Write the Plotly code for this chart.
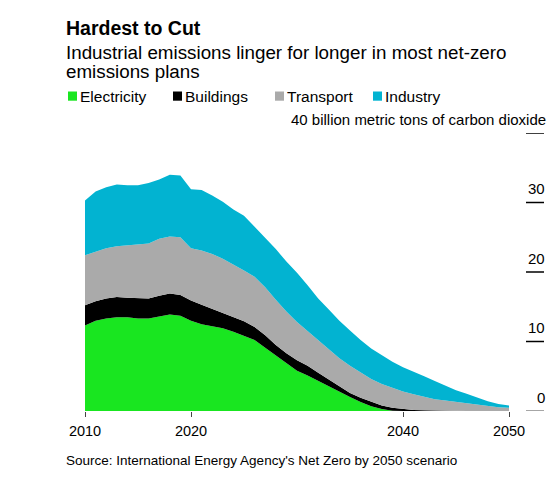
import plotly.graph_objects as go

# ---- data (billion metric tons CO2) ----
years = list(range(2010, 2051))
electricity = [12.3, 13.0, 13.3, 13.5, 13.5, 13.3, 13.3, 13.6, 13.9, 13.7,
               13.0, 12.5, 12.2, 11.9, 11.4, 10.8, 10.2, 9.1, 8.0, 6.8,
               5.8, 5.1, 4.3, 3.5, 2.7, 2.0, 1.3, 0.7, 0.3, 0.05,
               0, 0, 0, 0, 0, 0, 0, 0, 0, 0, 0]
buildings = [2.9, 2.8, 2.9, 2.9, 2.8, 2.9, 2.9, 3.0, 3.0, 3.0,
             2.9, 2.8, 2.5, 2.2, 2.1, 2.1, 1.9, 1.8, 1.5, 1.5,
             1.5, 1.4, 1.2, 1.0, 0.8, 0.6, 0.6, 0.6, 0.5, 0.4,
             0.25, 0.15, 0.1, 0.05, 0.02, 0, 0, 0, 0, 0, 0]
transport = [7.2, 7.1, 7.2, 7.3, 7.5, 7.7, 7.9, 8.2, 8.2, 8.3,
             7.5, 7.8, 7.9, 7.8, 7.6, 7.3, 7.2, 6.9, 6.5, 6.0,
             5.5, 5.0, 4.6, 4.3, 4.1, 3.9, 3.6, 3.3, 3.1, 2.85,
             2.55, 2.25, 1.9, 1.65, 1.48, 1.3, 1.1, 0.85, 0.7, 0.55, 0.45]
industry = [7.9, 8.7, 8.8, 8.9, 8.7, 8.6, 8.7, 8.5, 8.9, 8.9,
            8.5, 8.7, 8.4, 8.2, 7.9, 7.9, 7.2, 7.1, 7.3, 7.2,
            7.1, 6.6, 6.1, 5.8, 5.4, 5.1, 4.7, 4.4, 4.1, 3.8,
            3.5, 3.3, 3.0, 2.6, 2.1, 1.7, 1.4, 1.05, 0.7, 0.45, 0.35]

series_names = ["Electricity", "Buildings", "Transport", "Industry"]
series_values = [electricity, buildings, transport, industry]
series_colors = ["#19e620", "#000000", "#aaaaaa", "#02b3d1"]

x_tick_vals = [2010, 2020, 2040, 2050]
y_tick_vals = [0, 10, 20, 30]
y_top = 40
y_unit_label = "40 billion metric tons of carbon dioxide"

title = "Hardest to Cut"
subtitle1 = "Industrial emissions linger for longer in most net-zero"
subtitle2 = "emissions plans"
source = "Source: International Energy Agency's Net Zero by 2050 scenario"

FONT = "Liberation Sans, Arial, Helvetica, sans-serif"

# the page body has an 8px margin, so the figure is laid out 8px smaller
OFF = 8
W, H = 558 - OFF, 482 - OFF
ML, MR, MT, MB = 77, 49, 125, 71
PW, PH = W - ML - MR, H - MT - MB


def px(x):  # reference-window pixel -> paper x
    return (x - OFF - ML) / PW


def py(y):  # reference-window pixel -> paper y
    return (H - MB - (y - OFF)) / PH


fig = go.Figure()
for name, vals, col in zip(series_names, series_values, series_colors):
    fig.add_trace(go.Scatter(
        x=years, y=vals, name=name, mode="lines", stackgroup="one",
        line=dict(width=0, color=col), fillcolor=col, showlegend=False,
        hoverinfo="x+y+name"))

shapes = []
annotations = []

# right-hand y ticks (short lines with labels above)
for v in y_tick_vals + [y_top]:
    shapes.append(dict(type="line", xref="paper", yref="y",
                       x0=px(526), x1=px(544), y0=v, y1=v,
                       line=dict(color="#888888" if v == 0 else "#000000", width=1.5)))
for v in y_tick_vals:
    annotations.append(dict(xref="paper", yref="y", x=px(547), y=v, yshift=14,
                            xanchor="right", yanchor="middle", showarrow=False,
                            text=str(v), font=dict(family=FONT, size=15, color="#000")))
annotations.append(dict(xref="paper", yref="y", x=px(548), y=y_top, yshift=14,
                        xanchor="right", yanchor="middle", showarrow=False,
                        text=y_unit_label, font=dict(family=FONT, size=15, color="#000")))

# title block
annotations.append(dict(xref="paper", yref="paper", x=px(64), y=py(28.5),
                        xanchor="left", yanchor="middle", showarrow=False,
                        text="<b>" + title + "</b>",
                        font=dict(family=FONT, size=19.5, color="#000")))
annotations.append(dict(xref="paper", yref="paper", x=px(64), y=py(52),
                        xanchor="left", yanchor="middle", showarrow=False,
                        text=subtitle1, font=dict(family=FONT, size=18.8, color="#000")))
annotations.append(dict(xref="paper", yref="paper", x=px(64), y=py(71),
                        xanchor="left", yanchor="middle", showarrow=False,
                        text=subtitle2, font=dict(family=FONT, size=18.8, color="#000")))

# legend
legend_sq_x = [68, 173, 275, 373]
for name, col, sx in zip(series_names, series_colors, legend_sq_x):
    shapes.append(dict(type="rect", xref="paper", yref="paper",
                       x0=px(sx), x1=px(sx + 9), y0=py(100.7), y1=py(91.5),
                       line=dict(width=0), fillcolor=col))
    annotations.append(dict(xref="paper", yref="paper", x=px(sx + 10), y=py(96.5),
                            xanchor="left", yanchor="middle", showarrow=False,
                            text=name, font=dict(family=FONT, size=15.5, color="#000")))

# source
annotations.append(dict(xref="paper", yref="paper", x=px(64), y=py(460.5),
                        xanchor="left", yanchor="middle", showarrow=False,
                        text=source, font=dict(family=FONT, size=13.5, color="#000")))

fig.update_layout(
    width=W, height=H,
    margin=dict(l=ML, r=MR, t=MT, b=MB, pad=0),
    paper_bgcolor="white", plot_bgcolor="white",
    showlegend=False,
    shapes=shapes, annotations=annotations,
    xaxis=dict(range=[2010, 2050], tickvals=x_tick_vals, ticks="outside",
               ticklen=5, tickcolor="#444", tickwidth=1, showgrid=False,
               zeroline=False, showline=False, ticklabelstandoff=2,
               tickfont=dict(family=FONT, size=14.5, color="#000")),
    yaxis=dict(range=[0, y_top], visible=False, fixedrange=True),
)

fig.write_html("out.html")
